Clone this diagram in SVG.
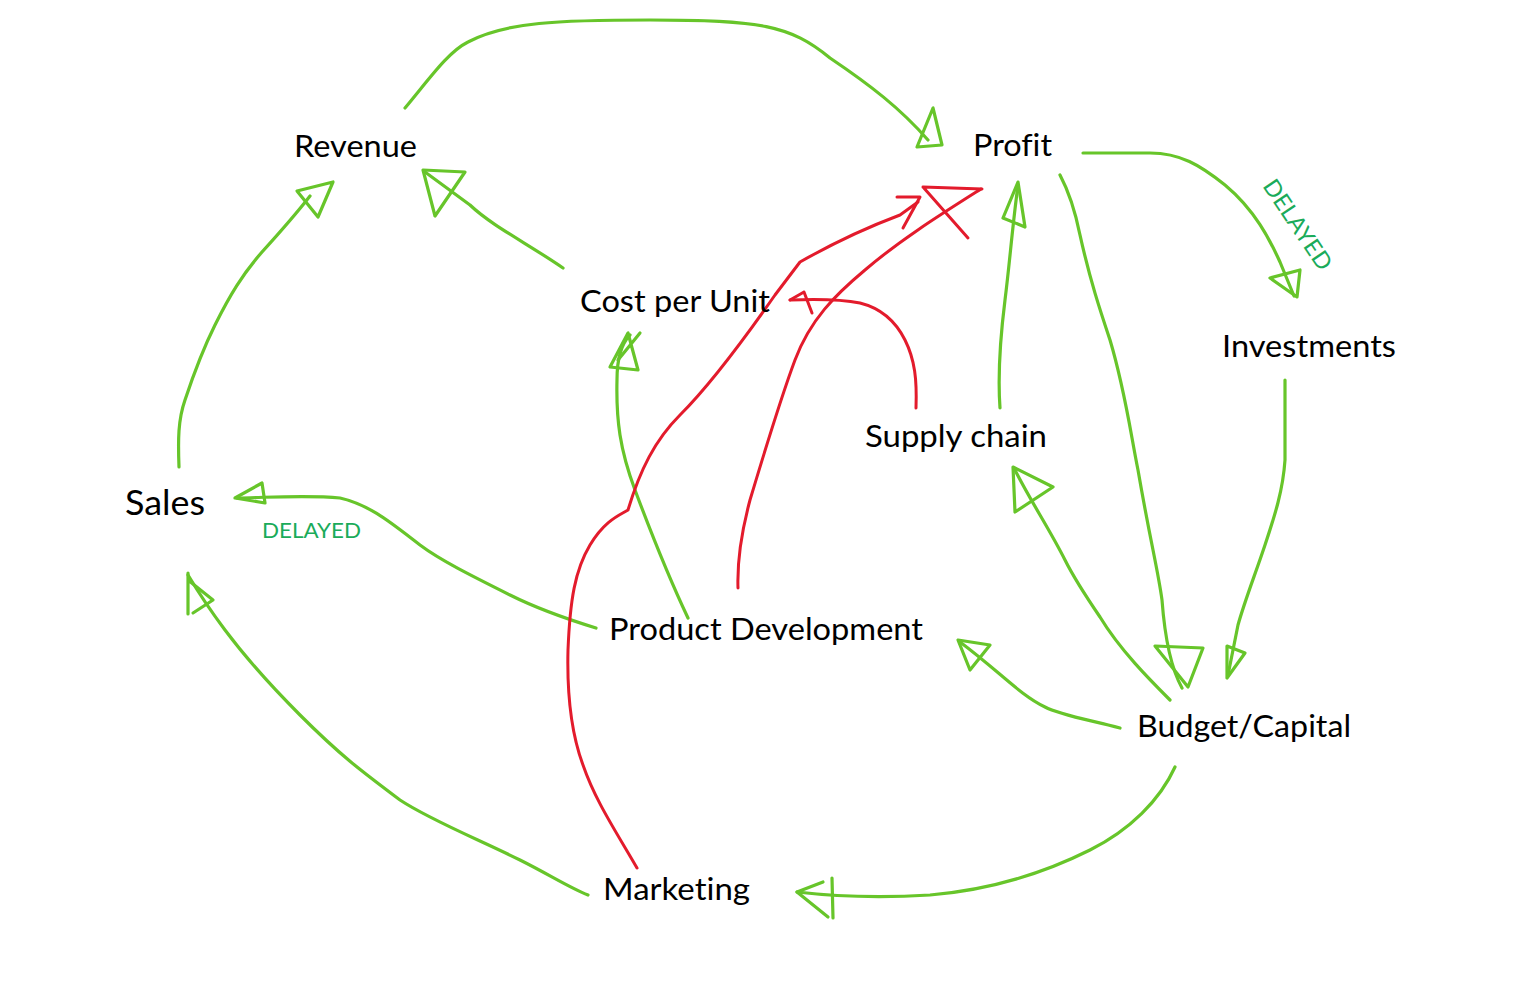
<svg xmlns="http://www.w3.org/2000/svg" width="1520" height="988" viewBox="0 0 1520 988">
<style>
.g{fill:none;stroke:#67c52a;stroke-width:3.2;stroke-linecap:round;stroke-linejoin:round}
.r{fill:none;stroke:#e31b2c;stroke-width:3;stroke-linecap:round;stroke-linejoin:round}
.lbl{font-family:Lato,"Open Sans","Liberation Sans",sans-serif;font-size:31px;fill:#000;font-variant-ligatures:none}
.dl{font-family:Lato,"Open Sans","Liberation Sans",sans-serif;font-size:22px;fill:#1aab5a}
</style>
<rect width="1520" height="988" fill="#fff"/>
<g id="connectors">
  <g id="e-revenue-profit">
    <path class="g" d="M405,108 C430,78 448,52 468,42 C505,22 560,20 650,20 C760,20 790,25 830,58 C870,85 900,108 928,140"/>
    <path class="g" d="M933,108 L917,147 L942,145 Z"/>
  </g>
  <g id="e-sales-revenue">
    <path class="g" d="M179,467 C178,440 178,420 185,400 C195,370 205,345 215,325 C230,295 242,275 262,252 C282,230 296,214 310,196"/>
    <path class="g" d="M297,191 L333,182 L318,217 Z"/>
  </g>
  <g id="e-cost-revenue">
    <path class="g" d="M563,268 C530,245 492,226 470,205 L425,172"/>
    <path class="g" d="M423,170 L465,172 L435,216 Z"/>
  </g>
  <g id="e-pd-cost">
    <path class="g" d="M688,618 C670,580 650,530 635,490 C620,450 616,420 617,380 C617,360 620,345 630,335"/>
    <path class="g" d="M628,333 L610,367 L638,370 Z M640,333 L618,360"/>
  </g>
  <g id="e-profit-investments">
    <path class="g" d="M1083,153 L1150,153 C1180,153 1200,165 1225,185 C1255,210 1270,240 1280,262 L1294,296"/>
    <path class="g" d="M1270,278 L1300,270 L1297,297 Z"/>
  </g>
  <g id="e-profit-budget">
    <path class="g" d="M1060,175 C1068,190 1075,210 1080,235 C1090,280 1100,310 1110,340 C1125,390 1130,430 1138,470 C1150,540 1158,570 1162,600 C1165,640 1172,670 1182,688"/>
    <path class="g" d="M1155,646 L1203,648 L1188,687 Z"/>
  </g>
  <g id="e-investments-budget">
    <path class="g" d="M1285,380 L1285,460 C1283,490 1275,515 1265,545 C1255,575 1245,600 1238,625 L1228,675"/>
    <path class="g" d="M1227,646 L1245,653 L1227,678 Z"/>
  </g>
  <g id="e-supply-profit">
    <path class="g" d="M1000,408 C998,380 1000,340 1005,300 C1010,260 1012,230 1018,185"/>
    <path class="g" d="M1018,182 L1003,218 L1025,227 Z"/>
  </g>
  <g id="e-budget-supply">
    <path class="g" d="M1170,700 C1150,680 1120,650 1100,617 C1085,595 1075,580 1065,560 C1050,530 1030,500 1015,470"/>
    <path class="g" d="M1013,467 L1053,487 L1015,512 Z"/>
  </g>
  <g id="e-budget-pd">
    <path class="g" d="M1120,728 C1090,720 1060,715 1045,707 C1020,695 1000,672 960,642"/>
    <path class="g" d="M958,640 L990,645 L970,670 Z"/>
  </g>
  <g id="e-budget-marketing">
    <path class="g" d="M1175,767 C1160,800 1130,830 1090,850 C1040,875 990,890 930,895 C880,898 840,897 797,892"/>
    <path class="g" d="M823,882 L797,892 L828,917 M832,878 L833,918"/>
  </g>
  <g id="e-marketing-sales">
    <path class="g" d="M588,895 C570,888 550,875 520,860 C480,840 430,820 400,800 C360,770 340,755 300,715 C260,675 240,650 225,630 C210,610 200,595 188,575"/>
    <path class="g" d="M188,573 L188,614 M188,580 L213,600 L193,613"/>
  </g>
  <g id="e-pd-sales">
    <path class="g" d="M596,628 C570,620 540,610 510,595 C470,575 440,560 420,545 C390,522 370,505 340,498 C310,495 280,497 237,498"/>
    <path class="g" d="M235,498 L262,483 L265,503 Z"/>
  </g>
  <g id="e-marketing-profit">
    <path class="r" d="M637,868 C615,830 595,800 583,765 C570,730 567,690 568,650 C570,600 575,570 590,545 C605,520 620,515 628,510 C640,470 655,440 680,415 C710,385 740,345 775,295 L800,262 C830,245 860,230 900,215 L918,202"/>
    <path class="r" d="M897,197 L920,197 L903,228"/>
  </g>
  <g id="e-pd-profit">
    <path class="r" d="M738,588 C737,560 742,530 750,500 C765,450 780,400 795,360 C810,320 835,295 865,270 C900,240 940,215 981,189"/>
    <path class="r" d="M923,187 L982,189 M923,187 L968,238"/>
  </g>
  <g id="e-supply-cost">
    <path class="r" d="M916,408 C917,380 915,360 905,340 C895,320 880,308 860,303 C840,299 815,299 790,300"/>
    <path class="r" d="M812,313 L804,292 L790,300"/>
  </g>
</g>
<g id="n-revenue"><text class="lbl" x="294" y="157" textLength="123" lengthAdjust="spacingAndGlyphs">Revenue</text></g>
<g id="n-profit"><text class="lbl" x="973" y="156" textLength="79" lengthAdjust="spacingAndGlyphs">Profit</text></g>
<g id="n-cost"><text class="lbl" x="580" y="312" textLength="190" lengthAdjust="spacingAndGlyphs">Cost per Unit</text></g>
<g id="n-investments"><text class="lbl" x="1222" y="357" textLength="174" lengthAdjust="spacingAndGlyphs">Investments</text></g>
<g id="n-supply"><text class="lbl" x="865" y="447" textLength="182" lengthAdjust="spacingAndGlyphs">Supply chain</text></g>
<g id="n-sales"><text class="lbl" x="125" y="515" style="font-size:34px" textLength="80" lengthAdjust="spacingAndGlyphs">Sales</text></g>
<g id="n-pd"><text class="lbl" x="609" y="640" textLength="314" lengthAdjust="spacingAndGlyphs">Product Development</text></g>
<g id="n-budget"><text class="lbl" x="1137" y="737" textLength="214" lengthAdjust="spacingAndGlyphs">Budget/Capital</text></g>
<g id="n-marketing"><text class="lbl" x="603" y="900" textLength="147" lengthAdjust="spacingAndGlyphs">Marketing</text></g>
<g id="labels">
  <text class="dl" x="262" y="538" textLength="99" lengthAdjust="spacingAndGlyphs">DELAYED</text>
  <text class="dl" transform="translate(1262,186) rotate(56)" x="0" y="0" style="font-size:23px" textLength="104" lengthAdjust="spacingAndGlyphs">DELAYED</text>
</g>
</svg>
